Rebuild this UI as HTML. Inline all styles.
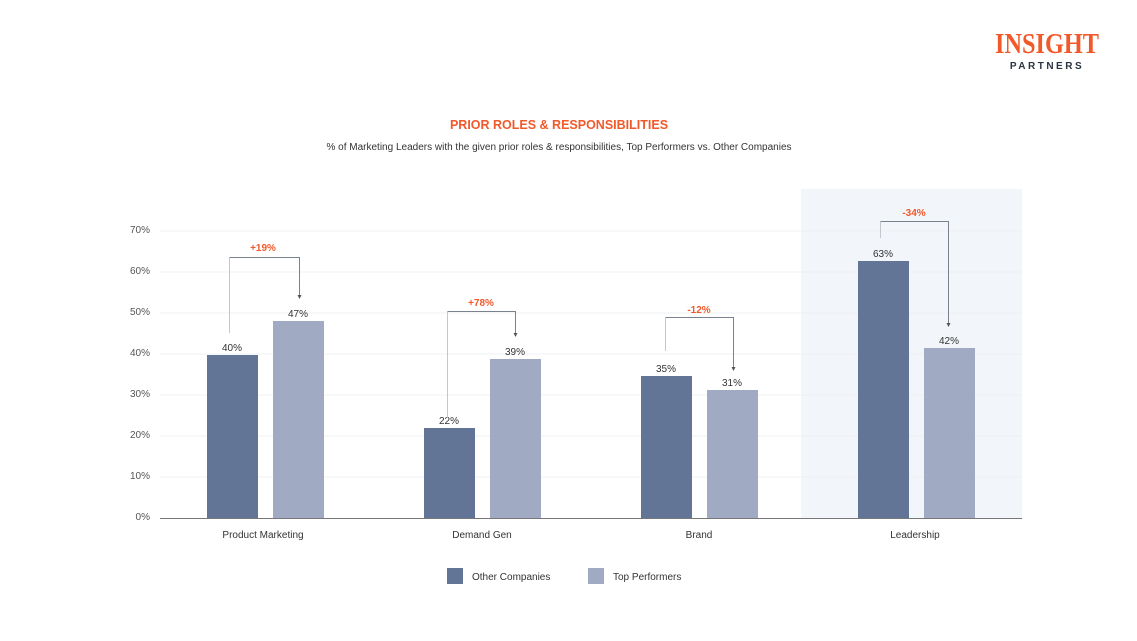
<!DOCTYPE html>
<html><head><meta charset="utf-8"><style>
html,body{margin:0;padding:0;background:#fff;}
svg{display:block;font-family:"Liberation Sans",sans-serif;}
</style></head><body>
<svg width="1137" height="641" viewBox="0 0 1137 641" xmlns="http://www.w3.org/2000/svg">
<rect width="1137" height="641" fill="#fff"/>
<text x="1047" y="53" text-anchor="middle" font-family="Liberation Serif,serif" font-size="28" font-weight="bold" fill="#f2592a" textLength="104" lengthAdjust="spacingAndGlyphs">INSIGHT</text>
<text x="1047" y="69" text-anchor="middle" font-size="10" font-weight="bold" fill="#2b3340" letter-spacing="2.5">PARTNERS</text>
<text x="559" y="129" text-anchor="middle" font-size="12.5" font-weight="bold" fill="#f2592a">PRIOR ROLES &amp; RESPONSIBILITIES</text>
<text x="559" y="150" text-anchor="middle" font-size="10" fill="#333">% of Marketing Leaders with the given prior roles &amp; responsibilities, Top Performers vs. Other Companies</text>
<rect x="801" y="189" width="221" height="329" fill="#f2f5f9"/>
<g stroke="#eef0f3" stroke-width="1">
<line x1="160" y1="231" x2="1022" y2="231"/><line x1="160" y1="272" x2="1022" y2="272"/>
<line x1="160" y1="313" x2="1022" y2="313"/><line x1="160" y1="354" x2="1022" y2="354"/>
<line x1="160" y1="395" x2="1022" y2="395"/><line x1="160" y1="436" x2="1022" y2="436"/>
<line x1="160" y1="477" x2="1022" y2="477"/>
</g>
<g font-size="10" fill="#555" text-anchor="end">
<text x="150" y="233">70%</text><text x="150" y="274">60%</text><text x="150" y="315">50%</text>
<text x="150" y="356">40%</text><text x="150" y="397">30%</text><text x="150" y="438">20%</text>
<text x="150" y="479">10%</text><text x="150" y="520">0%</text>
</g>
<g fill="#627597">
<rect x="207" y="355" width="51" height="163"/><rect x="424" y="428" width="51" height="90"/>
<rect x="641" y="376" width="51" height="142"/><rect x="858" y="261" width="51" height="257"/>
</g>
<g fill="#a0abc3">
<rect x="273" y="321" width="51" height="197"/><rect x="490" y="359" width="51" height="159"/>
<rect x="707" y="390" width="51" height="128"/><rect x="924" y="348" width="51" height="170"/>
</g>
<line x1="160" y1="518.5" x2="1022" y2="518.5" stroke="#777" stroke-width="1"/>
<g font-size="10" fill="#333" text-anchor="middle">
<text x="232" y="351">40%</text><text x="298" y="317">47%</text>
<text x="449" y="424">22%</text><text x="515" y="355">39%</text>
<text x="666" y="372">35%</text><text x="732" y="386">31%</text>
<text x="883" y="257">63%</text><text x="949" y="344">42%</text>
</g>
<g fill="none" stroke="#c3c8cf" stroke-width="1">
<line x1="229.5" y1="333" x2="229.5" y2="257.5"/>
<line x1="447.5" y1="418" x2="447.5" y2="311.5"/>
<line x1="665.5" y1="351" x2="665.5" y2="317.5"/>
<line x1="880.5" y1="238" x2="880.5" y2="221.5"/>
</g>
<g fill="none" stroke="#7a8290" stroke-width="1">
<polyline points="229.5,257.5 299.5,257.5 299.5,296"/>
<polyline points="447.5,311.5 515.5,311.5 515.5,334"/>
<polyline points="665.5,317.5 733.5,317.5 733.5,368"/>
<polyline points="880.5,221.5 948.5,221.5 948.5,324"/>
</g>
<g fill="#555">
<polygon points="297.5,295 301.5,295 299.5,299"/><polygon points="513.5,333 517.5,333 515.5,337"/>
<polygon points="731.5,367 735.5,367 733.5,371"/><polygon points="946.5,323 950.5,323 948.5,327"/>
</g>
<g font-size="10" font-weight="bold" fill="#f2592a" text-anchor="middle">
<text x="263" y="251">+19%</text><text x="481" y="306">+78%</text>
<text x="699" y="313">-12%</text><text x="914" y="216">-34%</text>
</g>
<g font-size="10" fill="#333" text-anchor="middle">
<text x="263" y="538">Product Marketing</text><text x="482" y="538">Demand Gen</text>
<text x="699" y="538">Brand</text><text x="915" y="538">Leadership</text>
</g>
<rect x="447" y="568" width="16" height="16" fill="#627597"/>
<text x="472" y="580" font-size="10" fill="#333">Other Companies</text>
<rect x="588" y="568" width="16" height="16" fill="#a0abc3"/>
<text x="613" y="580" font-size="10" fill="#333">Top Performers</text>
</svg>
</body></html>
